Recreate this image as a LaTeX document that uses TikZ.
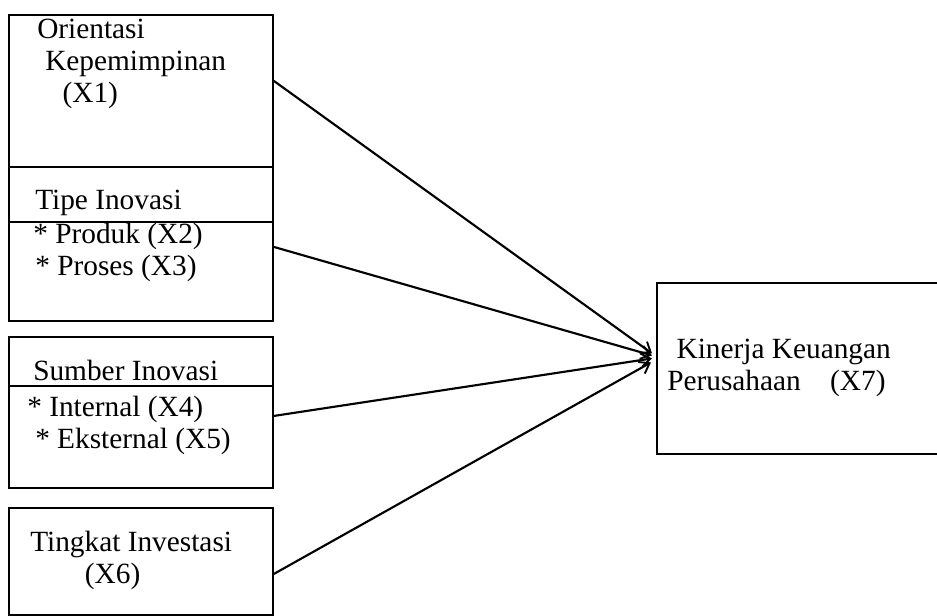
\documentclass[tikz,border=0pt]{standalone}
\usepackage{fontspec}
\setmainfont{Liberation Serif}
\usetikzlibrary{arrows.meta,calc}

\begin{document}
\begin{tikzpicture}[x=0.75pt, y=-0.75pt,
    box/.style={draw, line width=1.4pt, rectangle, anchor=north west, inner sep=0pt, minimum width=198pt},
    lbl/.style={anchor=base west, inner sep=0pt, align=left, font=\fontsize{22}{24}\selectfont},
    link/.style={line width=1.6pt, -{Straight Barb[length=7pt,width=10pt,line width=1.4pt]}}]
  \useasboundingbox (0,0) rectangle (937,616);
  \clip (0,0) rectangle (937,616);
  \node[box, minimum height=114pt] (b1) at (8,14) {};
  \node[box, minimum height=115.5pt] (b2) at (8,166) {};
  \node[box, minimum height=113.25pt] (b3) at (8,336) {};
  \node[box, minimum height=80.25pt] (b4) at (8,507) {};
  \node[box, minimum width=225pt, minimum height=128.25pt] (k) at (656,282) {};
  \draw[line width=1.4pt] ($(b2.north west)+(0,56)$) -- ($(b2.north east)+(0,56)$);
  \draw[line width=1.4pt] ($(b3.north west)+(0,50)$) -- ($(b3.north east)+(0,50)$);
  \node[lbl] (x1) at (37,103) {Orientasi\\\hspace*{6pt}Kepemimpinan\\\hspace*{19pt}(X1)};
  \node[lbl] (tipe) at (35,210) {Tipe Inovasi};
  \node[lbl] (x23) at (33,276) {* Produk (X2)\\\hspace*{1.5pt}* Proses (X3)};
  \node[lbl] (sumber) at (33,380) {Sumber Inovasi};
  \node[lbl] (x45) at (27,448) {* Internal (X4)\\\hspace*{6pt}* Eksternal (X5)};
  \node[lbl] (x6) at (30,583) {Tingkat Investasi\\\hspace*{41pt}(X6)};
  \node[lbl] (x7) at (667,390) {\hspace*{7pt}Kinerja Keuangan\\Perusahaan\quad(X7)};
  \draw[link] ($(b1.east)+(0,-10)$) -- ($(k.west)+(-4,-15)$);
  \draw[link] ($(b2.east)+(0,3)$) -- ($(k.west)+(-4,-13)$);
  \draw[link] ($(b3.east)+(0,3.5)$) -- ($(k.west)+(-4,-10)$);
  \draw[link] ($(b4.east)+(0,12.5)$) -- ($(k.west)+(-5,-6)$);
\end{tikzpicture}
\end{document}
